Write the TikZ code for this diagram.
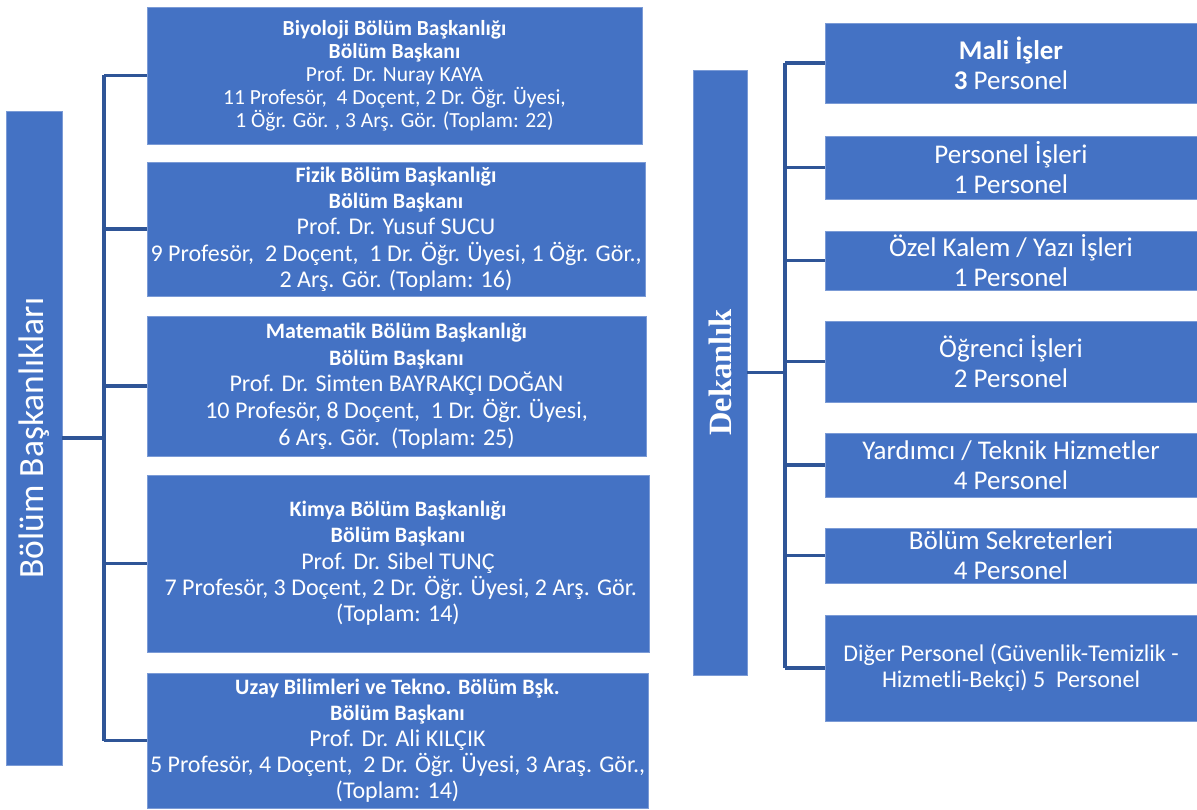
\documentclass[tikz,border=0pt]{standalone}
\usepackage{fontspec}
\setmainfont{Carlito}
\newfontfamily\dekfont{Liberation Serif}
\definecolor{boxblue}{HTML}{4472C4}
\definecolor{boxline}{HTML}{7B9BD6}
\definecolor{connblue}{HTML}{2F5597}
\newcommand{\fs}[2]{\fontsize{#1}{#2}\selectfont}
\newcommand{\hd}[1]{{\fs{22}{26}\bfseries #1}}
\begin{document}
\begin{tikzpicture}[x=1pt,y=-1pt,
  box/.style={draw=boxline, fill=boxblue, text=white, align=center, inner sep=0pt, outer sep=0pt, line width=0.6pt},
  conn/.style={draw=connblue, line width=3.2pt}]
\useasboundingbox (0,0) rectangle (1197,810);
\node[box, minimum width=56, minimum height=654] (bbl) at (34,438) {\rotatebox{90}{\fs{35.5}{40}Bölüm Başkanlıkları}};
\node[box, minimum width=495, minimum height=137, font=\fs{21.5}{23}] (b1) at (394.5,75.5) {\textbf{Biyoloji Bölüm Başkanlığı}\\\textbf{Bölüm Başkanı}\\Prof. Dr. Nuray KAYA\\11 Profesör,\ \ 4 Doçent, 2 Dr. Öğr. Üyesi,\\1 Öğr. Gör. , 3 Arş. Gör. (Toplam: 22)};
\node[box, minimum width=498, minimum height=134, font=\fs{24}{26.3}] (b2) at (396,229) {\hd{Fizik Bölüm Başkanlığı}\\\hd{Bölüm Başkanı}\\Prof. Dr. Yusuf SUCU\\9 Profesör,\ \ 2 Doçent,\ \ 1 Dr. Öğr. Üyesi, 1 Öğr. Gör.,\\2 Arş. Gör. (Toplam: 16)};
\node[box, minimum width=499, minimum height=140, font=\fs{24}{26.7}] (b3) at (396.5,386) {\hd{Matematik Bölüm Başkanlığı}\\\hd{Bölüm Başkanı}\\Prof. Dr. Simten BAYRAKÇI DOĞAN\\10 Profesör, 8 Doçent,\ \ 1 Dr. Öğr. Üyesi,\\6 Arş. Gör.\ \ (Toplam: 25)};
\node[box, minimum width=502, minimum height=177, font=\fs{24}{26.3}] (b4) at (398,563.5) {\hd{Kimya Bölüm Başkanlığı}\\\hd{Bölüm Başkanı}\\Prof. Dr. Sibel TUNÇ\\\ 7 Profesör, 3 Doçent, 2 Dr. Öğr. Üyesi, 2 Arş. Gör.\\(Toplam: 14)};
\node[box, minimum width=501, minimum height=135, font=\fs{24}{26}] (b5) at (397.5,740.5) {\hd{Uzay Bilimleri ve Tekno. Bölüm Bşk.}\\\hd{Bölüm Başkanı}\\Prof. Dr. Ali KILÇIK\\5 Profesör, 4 Doçent,\ \ 2 Dr. Öğr. Üyesi, 3 Araş. Gör.,\\(Toplam: 14)};
\coordinate (lt) at (104,438);
\draw[conn] (bbl.east) -- (lt);
\draw[conn] (b1.west -| lt) -- (b5.west -| lt);
\foreach \b in {b1,b2,b3,b4,b5} \draw[conn] (\b.west) -- (\b.west -| lt);
\node[box, minimum width=54, minimum height=605] (dek) at (720,372.5) {\rotatebox{90}{\dekfont\bfseries\fs{32.5}{36}Dekanlık}};
\node[box, minimum width=372, minimum height=80, font=\fs{27}{30}] (r1) at (1011,63) {\textbf{Mali İşler}\\\textbf{3} Personel};
\node[box, minimum width=372, minimum height=63, font=\fs{27}{30}] (r2) at (1011,167.5) {Personel İşleri\\1 Personel};
\node[box, minimum width=372, minimum height=59, font=\fs{27}{30}] (r3) at (1011,260.5) {Özel Kalem / Yazı İşleri\\1 Personel};
\node[box, minimum width=372, minimum height=81, font=\fs{27}{30}] (r4) at (1011,361.5) {Öğrenci İşleri\\2 Personel};
\node[box, minimum width=372, minimum height=64, font=\fs{27}{30}] (r5) at (1011,465) {Yardımcı / Teknik Hizmetler\\4 Personel};
\node[box, minimum width=372, minimum height=55, font=\fs{27}{30}] (r6) at (1011,555.5) {Bölüm Sekreterleri\\4 Personel};
\node[box, minimum width=372, minimum height=106, font=\fs{24}{26}] (r7) at (1011,668) {Diğer Personel (Güvenlik-Temizlik -\\Hizmetli-Bekçi) 5\ \ Personel};
\coordinate (rt) at (785,372.5);
\draw[conn] (dek.east) -- (rt);
\draw[conn] (r1.west -| rt) -- (r7.west -| rt);
\foreach \r in {r1,r2,r3,r4,r5,r6,r7} \draw[conn] (\r.west) -- (\r.west -| rt);
\end{tikzpicture}
\end{document}
